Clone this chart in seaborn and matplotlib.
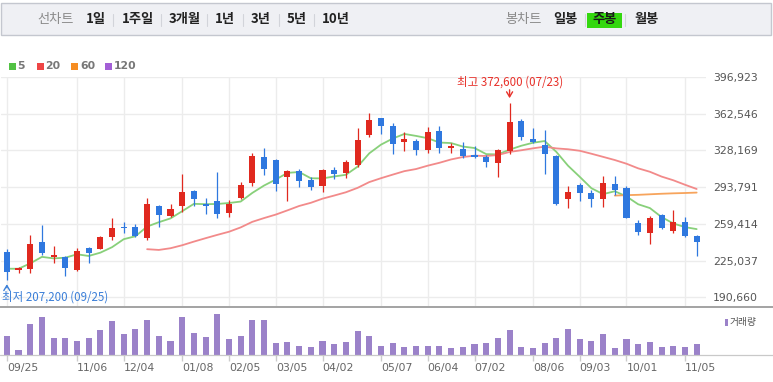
import numpy as np
import pandas as pd
import matplotlib
matplotlib.use("Agg")
import matplotlib.pyplot as plt
from matplotlib.patches import Rectangle
from matplotlib.lines import Line2D
import seaborn as sns

sns.set_theme(style="white")
plt.rcParams['font.family'] = ['Noto Sans CJK KR', 'DejaVu Sans']

# weekly candles, 60 weeks shown
opens = [233400, 216300, 217200, 242800, 228200, 228200, 216300, 236600, 236000, 246900,
         256900, 256900, 246500, 276500, 267200, 276500, 290300, 277900, 281000, 270000,
         283500, 298100, 321900, 319400, 303200, 309100, 300600, 295000, 310000, 306900,
         314700, 342200, 358500, 351300, 336300, 337200, 328800, 345900, 330900, 329400,
         324100, 321900, 316300, 327200, 355300, 339100, 333500, 323100, 282800, 296000,
         288700, 282500, 296900, 292900, 260000, 250700, 267800, 253100, 261500, 248400]
highs = [235700, 219400, 249100, 258500, 239000, 229400, 236600, 238100, 248400, 264700,
         261500, 259400, 284000, 277200, 277900, 306000, 291300, 284000, 307900, 281900,
         298500, 325700, 330400, 320300, 310000, 310600, 303200, 310600, 312500, 319400,
         349100, 363200, 359000, 353800, 345000, 339100, 350000, 351300, 335000, 336500,
         331900, 324100, 329400, 372600, 357500, 349100, 347500, 324100, 295000, 297500,
         291300, 304400, 304400, 294400, 263100, 266900, 268800, 272500, 265700, 249100]
lows = [207200, 213700, 213200, 230300, 222500, 210600, 215600, 223100, 235700, 244400,
        251200, 246900, 244000, 256900, 266200, 270900, 276500, 268800, 264700, 266200,
        282500, 295000, 305300, 290600, 281200, 293800, 291300, 289100, 301300, 302200,
        312500, 340700, 343800, 325000, 327200, 324100, 325700, 326200, 326200, 321000,
        321000, 312500, 303700, 325000, 337500, 335000, 306300, 277200, 274100, 281200,
        275000, 275600, 286600, 264700, 249000, 240600, 254400, 250700, 246900, 229400]
closes = [214700, 218400, 240400, 231900, 230000, 217900, 234400, 232500, 247500, 255600,
          255400, 248100, 277900, 267800, 273500, 289100, 282500, 276300, 268800, 277900,
          296000, 323100, 310700, 296900, 309100, 300000, 293800, 310000, 306000, 317000,
          338100, 356200, 350600, 334400, 338800, 328800, 345400, 330400, 331900, 322500,
          321900, 316900, 328800, 354400, 340700, 336000, 325000, 277900, 289700, 288700,
          282500, 297500, 291300, 265300, 252200, 264700, 255400, 261500, 248100, 242800]
volumes = [465, 108, 750, 940, 400, 400, 333, 400, 608, 833,
           500, 633, 858, 465, 333, 940, 525, 440, 1000, 383,
           465, 858, 858, 275, 300, 215, 190, 333, 250, 300,
           583, 465, 215, 275, 190, 215, 215, 215, 165, 190,
           250, 275, 415, 608, 190, 165, 275, 415, 633, 383,
           333, 500, 165, 383, 250, 300, 190, 215, 190, 250]

# moving-average values read where the window reaches before the first shown week
ma5_head = [217400, 217400, 222400, 228500]          # weeks 0-3
ma20_head = [235700, 235000, 236600, 239400, 242800, 246000, 249100]  # weeks 12-18
ma60_tail = [285900, 286300, 286600, 287100, 287600, 288000, 288300, 288700]  # weeks 52-59

tick_weeks = [0, 6, 10, 15, 19, 23, 27, 32, 36, 40, 45, 49, 53, 58]
tick_labels = ['09/25', '11/06', '12/04', '01/08', '02/05', '03/05', '04/02',
               '05/07', '06/04', '07/02', '08/06', '09/03', '10/01', '11/05']
price_ticks = [190660, 225037, 259414, 293791, 328169, 362546, 396923]

UP, DOWN = '#e0291f', '#2f78df'
W, H = 773, 382

df = pd.DataFrame({'open': opens, 'high': highs, 'low': lows,
                   'close': closes, 'volume': volumes})
df['week'] = np.arange(len(df))
df['ma5'] = df['close'].rolling(5).mean()
df.loc[0:3, 'ma5'] = ma5_head
df['ma20'] = df['close'].rolling(20).mean()
df.loc[12:18, 'ma20'] = ma20_head
df['ma60'] = np.nan
df.loc[52:59, 'ma60'] = ma60_tail

fig = plt.figure(figsize=(W / 100, H / 100), dpi=100)


def fx(x):
    return x / W


def fy(y):
    return 1 - y / H


ax = fig.add_axes([fx(1), fy(306), fx(705), (306 - 77) / H])
axv = fig.add_axes([fx(1), fy(354.5), fx(705), (354.5 - 308) / H])

# candles
for r in df.itertuples():
    col = UP if r.close >= r.open else DOWN
    ax.vlines(r.week, r.low, r.high, color=col, lw=0.9, zorder=3)
    lo, hi = min(r.open, r.close), max(r.open, r.close)
    ax.bar(r.week, max(hi - lo, 1400), bottom=lo, width=0.52, color=col,
           linewidth=0, zorder=4)

for col_name, color in [('ma5', '#88d07a'), ('ma20', '#f28a8a'), ('ma60', '#f7a45c')]:
    d = df[['week', col_name]].dropna()
    sns.lineplot(x=d['week'], y=d[col_name], ax=ax, color=color, lw=1.3, zorder=2)

ax.set_xlim(-0.5, 59.8)
ax.set_ylim(182500, 396923)
ax.set_xticks(tick_weeks)
ax.set_xticklabels([])
ax.set_yticks(price_ticks)
ax.set_yticklabels([f'{v:,}' for v in price_ticks], fontsize=7.8, color='#555555',
                   family=['DejaVu Sans'])
ax.yaxis.tick_right()
ax.tick_params(axis='both', length=0, pad=5)
ax.grid(True, color='#ececec', lw=1)
ax.set_xlabel('')
ax.set_ylabel('')
for s in ax.spines.values():
    s.set_visible(False)

# high / low markers
ax.annotate('', xy=(43, 374500), xytext=(43, 387500),
            arrowprops=dict(arrowstyle='->,head_length=0.3,head_width=0.18', color='#e8312a', lw=1))
ax.text(43, 392000, '최고 372,600 (07/23)', color='#e8312a', fontsize=8.3,
        ha='center', va='center', zorder=6)
ax.annotate('', xy=(0, 205500), xytext=(0, 197000),
            arrowprops=dict(arrowstyle='->,head_length=0.3,head_width=0.18', color='#3b7fd8', lw=1))
ax.text(-0.4, 191200, '최저 207,200 (09/25)', color='#3b7fd8', fontsize=8.3,
        ha='left', va='center', zorder=6)

# volume
sns.barplot(x=df['week'], y=df['volume'], ax=axv, native_scale=True, color='#9b82c9',
            saturation=1, width=0.52, errorbar=None, linewidth=0)
axv.set_xlim(-0.5, 59.8)
axv.set_ylim(0, 1160)
axv.set_yticks([])
axv.set_xticks(tick_weeks)
axv.set_xticklabels(tick_labels, fontsize=7.8, color='#666666', ha='left',
                    family=['DejaVu Sans'])
axv.tick_params(axis='x', length=4, color='#cccccc', width=1, pad=2, bottom=True)
axv.set_xlabel('')
axv.set_ylabel('')
for s in axv.spines.values():
    s.set_visible(False)

# full-width rules
fig.add_artist(Line2D([0, 1], [fy(307.3), fy(307.3)], color='#9c9c9c', lw=1.3))
fig.add_artist(Line2D([0, 1], [fy(354.8), fy(354.8)], color='#c9c9c9', lw=0.9))

# volume legend
fig.add_artist(Rectangle((fx(725), fy(325.5)), fx(2.6), 7 / H, color='#9b82c9', lw=0))
fig.text(fx(730), fy(322), '거래량', fontsize=7, color='#555555', va='center', ha='left')

# MA legend
for x0, color, label in [(8.5, '#52c244', '5'), (36.5, '#ee4545', '20'),
                         (71, '#f68d22', '60'), (105, '#a35fd6', '120')]:
    fig.add_artist(Rectangle((fx(x0), fy(70)), fx(7), 7 / H, color=color, lw=0))
    fig.text(fx(x0 + 9), fy(66.3), label, fontsize=7.8, color='#777777',
             fontweight='bold', va='center', ha='left', family=['DejaVu Sans'])

# top tab bar
fig.add_artist(Rectangle((fx(1), fy(35)), fx(770), 32.3 / H, facecolor='#eff0f4',
                         edgecolor='#c4c7cf', lw=1))
fig.text(fx(37), fy(19.5), '선차트', fontsize=9.5, color='#8a8a8a', va='center', ha='left')
for xc, t in [(86, '1일'), (122, '1주일'), (169, '3개월'), (215, '1년'),
              (251, '3년'), (287, '5년'), (322, '10년')]:
    fig.text(fx(xc), fy(19.5), t, fontsize=9.5, color='#222222', fontweight='bold',
             va='center', ha='left')
for xs in [113, 161, 207, 243, 279, 314]:
    fig.add_artist(Line2D([fx(xs), fx(xs)], [fy(14), fy(26)], color='#d2d4da', lw=0.8))

fig.text(fx(505), fy(19.5), '봉차트', fontsize=9.5, color='#8a8a8a', va='center', ha='left')
fig.text(fx(553), fy(19.5), '일봉', fontsize=9.5, color='#222222', fontweight='bold',
         va='center', ha='left')
fig.add_artist(Rectangle((fx(587), fy(27.7)), fx(35), 15 / H, color='#34d80f', lw=0))
fig.text(fx(604.5), fy(19.5), '주봉', fontsize=9.5, color='#1a1a1a', fontweight='bold',
         va='center', ha='center')
fig.text(fx(634), fy(19.5), '월봉', fontsize=9.5, color='#222222', fontweight='bold',
         va='center', ha='left')
for xs in [585, 625]:
    fig.add_artist(Line2D([fx(xs), fx(xs)], [fy(14), fy(26)], color='#d2d4da', lw=0.8))

fig.savefig('out.png', dpi=100, facecolor='white')
